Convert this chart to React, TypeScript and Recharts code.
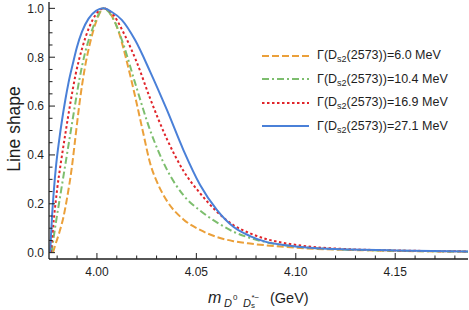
import React from "react";
import { LineChart, Line, XAxis, YAxis, Legend } from "recharts";

const FONT = "'Liberation Sans', Arial, sans-serif";
const INK = "#1e1e1e";

// widths (MeV) of the four curves, in legend order
const widthLabels = ["6.0", "10.4", "16.9", "27.1"];
const seriesColors = ["#EBA03A", "#7DBE6E", "#E0242A", "#4A80D8"];
const seriesDash = ["7 3", "7 3 2 3", "2.5 2.5", undefined];

// orange: Γ = 6.0 MeV
const orangeX = [3.9779, 3.979, 3.981, 3.9832, 3.9848, 3.9874, 3.9893, 3.9913, 3.994, 3.9966, 3.9998, 4.0035, 4.007, 4.0109, 4.0151, 4.0192, 4.023, 4.0268, 4.031, 4.0352, 4.0435, 4.0519, 4.0603, 4.0686, 4.077, 4.085, 4.0938, 4.1106, 4.1273, 4.15, 4.1866];
const orangeY = [0, 0.03, 0.08, 0.147, 0.215, 0.35, 0.48, 0.615, 0.76, 0.86, 0.95, 1.0, 0.975, 0.905, 0.78, 0.64, 0.5, 0.365, 0.275, 0.212, 0.136, 0.093, 0.064, 0.047, 0.037, 0.03, 0.024, 0.015, 0.011, 0.007, 0.004];

// green: Γ = 10.4 MeV
const greenX = [3.9772, 3.9782, 3.9797, 3.9818, 3.9841, 3.9863, 3.9887, 3.9912, 3.9941, 3.9975, 4.0005, 4.0033, 4.008, 4.013, 4.019, 4.0268, 4.0352, 4.0435, 4.0519, 4.0603, 4.0686, 4.077, 4.085, 4.0938, 4.1106, 4.1273, 4.15, 4.1866];
const greenY = [0, 0.06, 0.14, 0.245, 0.36, 0.47, 0.59, 0.71, 0.82, 0.91, 0.97, 1.0, 0.96, 0.86, 0.7, 0.5, 0.34, 0.235, 0.172, 0.124, 0.086, 0.06, 0.043, 0.031, 0.018, 0.012, 0.008, 0.004];

// red: Γ = 16.9 MeV
const redX = [3.9769, 3.9776, 3.9785, 3.98, 3.9819, 3.984, 3.9866, 3.9893, 3.9925, 3.996, 3.9995, 4.0033, 4.0085, 4.014, 4.02, 4.0268, 4.0352, 4.0435, 4.0519, 4.0603, 4.0686, 4.077, 4.085, 4.0938, 4.1106, 4.1273, 4.15, 4.1866];
const redY = [0, 0.07, 0.15, 0.26, 0.37, 0.48, 0.61, 0.73, 0.835, 0.92, 0.975, 1.0, 0.97, 0.89, 0.78, 0.63, 0.465, 0.335, 0.243, 0.168, 0.113, 0.079, 0.056, 0.04, 0.022, 0.014, 0.009, 0.005];

// blue: Γ = 27.1 MeV
const blueX = [3.9765, 3.9769, 3.9774, 3.9782, 3.9795, 3.981, 3.9824, 3.9841, 3.9857, 3.9878, 3.9899, 3.9925, 3.9958, 3.9995, 4.0033, 4.0075, 4.0126, 4.0192, 4.0268, 4.0352, 4.0435, 4.0519, 4.0603, 4.0686, 4.077, 4.085, 4.0938, 4.1106, 4.1273, 4.15, 4.1866];
const blueY = [0, 0.07, 0.145, 0.24, 0.36, 0.46, 0.54, 0.625, 0.695, 0.77, 0.84, 0.905, 0.958, 0.99, 1.0, 0.985, 0.952, 0.87, 0.74, 0.584, 0.42, 0.277, 0.175, 0.106, 0.068, 0.044, 0.031, 0.018, 0.013, 0.009, 0.005];

const xMajorTicks = [4.0, 4.05, 4.1, 4.15];
const xMinorTicks = [3.98, 3.99, 4.01, 4.02, 4.03, 4.04, 4.06, 4.07, 4.08, 4.09, 4.11, 4.12, 4.13, 4.14, 4.16, 4.17, 4.18];
const yMajorTicks = [0, 0.2, 0.4, 0.6, 0.8, 1.0];
const yMinorTicks = [0.05, 0.1, 0.15, 0.25, 0.3, 0.35, 0.45, 0.5, 0.55, 0.65, 0.7, 0.75, 0.85, 0.9, 0.95];

const xDomain = [3.9759, 4.1866];
const yDomain = [-0.026, 1.026];

const zip = (xs: number[], ys: number[]) => xs.map((x, i) => ({ x, y: ys[i] }));
const seriesData = [zip(orangeX, orangeY), zip(greenX, greenY), zip(redX, redY), zip(blueX, blueY)];

const isIn = (v: number, arr: number[]) => arr.some((a) => Math.abs(a - v) < 1e-6);
const allX = [...xMajorTicks, ...xMinorTicks].sort((a, b) => a - b);
const allY = [...yMajorTicks, ...yMinorTicks].sort((a, b) => a - b);

const MAJ = 6;
const MIN = 3.5;

const BottomTick = (p: any) => {
  const { x, y, payload } = p;
  const major = isIn(payload.value, xMajorTicks);
  return (
    <g>
      <line x1={x} x2={x} y1={y} y2={y - (major ? MAJ : MIN)} stroke={INK} strokeWidth={1} />
      {major && (
        <text x={x} y={y + 17} textAnchor="middle" fontSize={12} fill={INK} fontFamily={FONT}>
          {payload.value.toFixed(2)}
        </text>
      )}
    </g>
  );
};
const TopTick = (p: any) => {
  const { x, y, payload } = p;
  const major = isIn(payload.value, xMajorTicks);
  return <line x1={x} x2={x} y1={y} y2={y + (major ? MAJ : MIN)} stroke={INK} strokeWidth={1} />;
};
const LeftTick = (p: any) => {
  const { x, y, payload } = p;
  const major = isIn(payload.value, yMajorTicks);
  return (
    <g>
      <line x1={x} x2={x + (major ? MAJ : MIN)} y1={y} y2={y} stroke={INK} strokeWidth={1} />
      {major && (
        <text x={x - 5} y={y + 4.3} textAnchor="end" fontSize={12} fill={INK} fontFamily={FONT}>
          {payload.value.toFixed(1)}
        </text>
      )}
    </g>
  );
};
const RightTick = (p: any) => {
  const { x, y, payload } = p;
  const major = isIn(payload.value, yMajorTicks);
  return <line x1={x} x2={x - (major ? MAJ : MIN)} y1={y} y2={y} stroke={INK} strokeWidth={1} />;
};

const LegendBox = () => (
  <div style={{ fontFamily: FONT, fontSize: 12.5, color: INK }}>
    {widthLabels.map((w, i) => (
      <div key={w} style={{ display: "flex", alignItems: "center", height: 23.5 }}>
        <svg width={48} height={6} style={{ display: "block" }}>
          <line x1={0} y1={3} x2={47} y2={3} stroke={seriesColors[i]} strokeWidth={2} strokeDasharray={seriesDash[i]} />
        </svg>
        <span style={{ marginLeft: 7, whiteSpace: "nowrap", lineHeight: "14px" }}>
          Γ(D<span style={{ fontSize: 9, position: "relative", top: 3 }}>s2</span>(2573))={w} MeV
        </span>
      </div>
    ))}
  </div>
);

export default function App() {
  const axisLine = { stroke: INK, strokeWidth: 1.3 };
  return (
    <div style={{ position: "absolute", left: 0, top: 0, width: 469, height: 310, background: "#fff" }}>
      <LineChart width={469} height={310} margin={{ top: 2, right: 1, bottom: 0, left: 0 }}>
        <XAxis xAxisId="b" type="number" dataKey="x" domain={xDomain} allowDataOverflow ticks={allX} interval={0}
          orientation="bottom" height={51} tickSize={0} tickMargin={0} tickLine={false} axisLine={axisLine} tick={<BottomTick />} />
        <XAxis xAxisId="t" type="number" dataKey="x" domain={xDomain} allowDataOverflow ticks={allX} interval={0}
          orientation="top" height={0} tickSize={0} tickMargin={0} tickLine={false} axisLine={axisLine} tick={<TopTick />} />
        <YAxis yAxisId="l" type="number" dataKey="y" domain={yDomain} allowDataOverflow ticks={allY} interval={0}
          orientation="left" width={49} tickSize={0} tickMargin={0} tickLine={false} axisLine={axisLine} tick={<LeftTick />} />
        <YAxis yAxisId="r" type="number" dataKey="y" domain={yDomain} allowDataOverflow ticks={allY} interval={0}
          orientation="right" width={0} tickSize={0} tickMargin={0} tickLine={false} axisLine={axisLine} tick={<RightTick />} />
        {seriesData.map((d, i) => (
          <Line key={i} xAxisId="b" yAxisId="l" data={d} dataKey="y" type="monotone" stroke={seriesColors[i]}
            strokeWidth={2} strokeDasharray={seriesDash[i]} dot={false} activeDot={false} isAnimationActive={false} />
        ))}
        <Legend layout="vertical" align="center" verticalAlign="middle" content={<LegendBox />}
          wrapperStyle={{ left: 262, top: 44, width: 205, height: 100 }} />
      </LineChart>
      <div style={{ position: "absolute", left: 0, top: 0, pointerEvents: "none" }}>
        <svg width={469} height={310}>
          <text transform="translate(20,129) rotate(-90)" textAnchor="middle" fontSize={17.5} fill={INK} fontFamily={FONT}>
            Line shape
          </text>
          <text fill={INK} fontFamily={FONT}>
            <tspan x={208} y={302.5} fontSize={16} fontStyle="italic">m</tspan>
            <tspan x={224} y={306.5} fontSize={11} fontStyle="italic">D</tspan>
            <tspan x={233} y={300} fontSize={8}>0</tspan>
            <tspan x={243} y={306.5} fontSize={11} fontStyle="italic">D</tspan>
            <tspan x={251} y={308} fontSize={8}>s</tspan>
            <tspan x={251.5} y={299.5} fontSize={8}>*−</tspan>
            <tspan x={270} y={302.5} fontSize={14.5}>(GeV)</tspan>
          </text>
        </svg>
      </div>
    </div>
  );
}
